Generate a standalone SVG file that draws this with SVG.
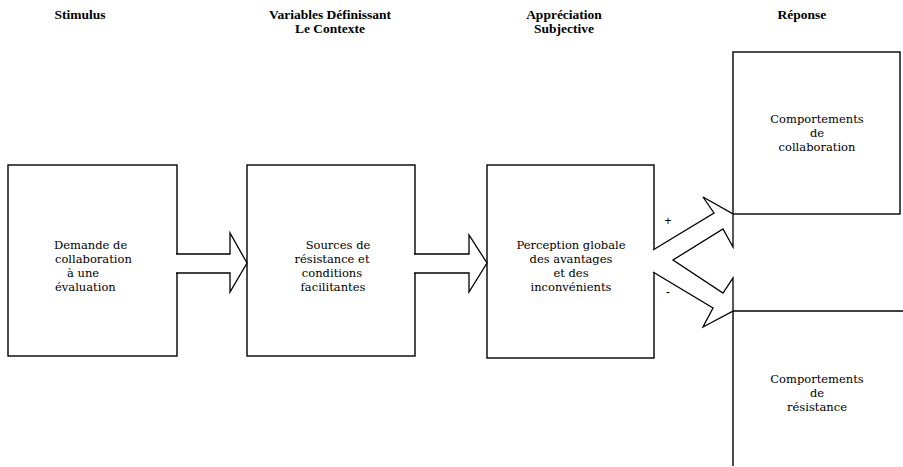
<svg xmlns="http://www.w3.org/2000/svg" width="903" height="467" viewBox="0 0 903 467">
<style>
.box{fill:#fff;stroke:#000;stroke-width:1.4}
.ln{fill:none;stroke:#000;stroke-width:1.4}
.arr{fill:#fff;stroke:#000;stroke-width:1.3;stroke-linejoin:miter}
.h{font-family:"Liberation Serif","Times New Roman",serif;font-weight:bold;font-size:13.5px;text-anchor:middle;fill:#000}
.t{font-family:"DejaVu Serif","Liberation Serif",serif;font-size:11.5px;fill:#000}
.c{text-anchor:middle}
.s{font-family:"Liberation Sans",Arial,sans-serif;font-size:12px;fill:#000;text-anchor:middle}
</style>
<rect width="903" height="467" fill="#fff"/>
<g id="headers">
<text class="h" x="80" y="19">Stimulus</text>
<text class="h" x="330" y="19">Variables Définissant</text>
<text class="h" x="330" y="33">Le Contexte</text>
<text class="h" x="564" y="19">Appréciation</text>
<text class="h" x="564" y="33">Subjective</text>
<text class="h" x="802" y="19">Réponse</text>
</g>
<g id="stimulus">
<rect class="box" x="8" y="165" width="169" height="191"/>
<text class="t" x="54" y="249">Demande de</text>
<text class="t" x="55" y="263">collaboration</text>
<text class="t" x="67" y="277">à une</text>
<text class="t" x="55" y="291">évaluation</text>
</g>
<g id="contexte">
<rect class="box" x="247" y="165" width="168" height="191"/>
<text class="t c" x="338" y="249">Sources de</text>
<text class="t c" x="332" y="263">résistance et</text>
<text class="t c" x="332" y="277">conditions</text>
<text class="t c" x="333" y="291">facilitantes</text>
</g>
<g id="appreciation">
<rect class="box" x="487" y="165" width="167" height="193"/>
<text class="t c" x="571" y="249">Perception globale</text>
<text class="t c" x="571" y="263">des avantages</text>
<text class="t c" x="571" y="277">et des</text>
<text class="t c" x="571" y="291">inconvénients</text>
</g>
<g id="collaboration">
<rect class="box" x="733" y="52" width="167" height="162"/>
<text class="t c" x="817" y="123">Comportements</text>
<text class="t c" x="817" y="137">de</text>
<text class="t c" x="817" y="151">collaboration</text>
</g>
<g id="resistance">
<path class="ln" d="M733,311 H903 M733,311 V466"/>
<text class="t c" x="817" y="383">Comportements</text>
<text class="t c" x="817" y="397">de</text>
<text class="t c" x="817" y="411">résistance</text>
</g>
<g id="connectors">
<polyline class="arr" points="176,254 230,254 230,233 247,263 230,292 230,273 176,273"/>
<polyline class="arr" points="414,254 469,254 469,235 487,263 469,292 469,273 414,273"/>
<polyline class="arr" points="653,250 714,213 703,197 733,214 733,247 723,229 673,260 723,293 733,278 733,311 703,327 713,308 653,272"/>
<text class="s" x="668" y="225">+</text>
<text class="s" x="668" y="296">-</text>
</g>
</svg>
